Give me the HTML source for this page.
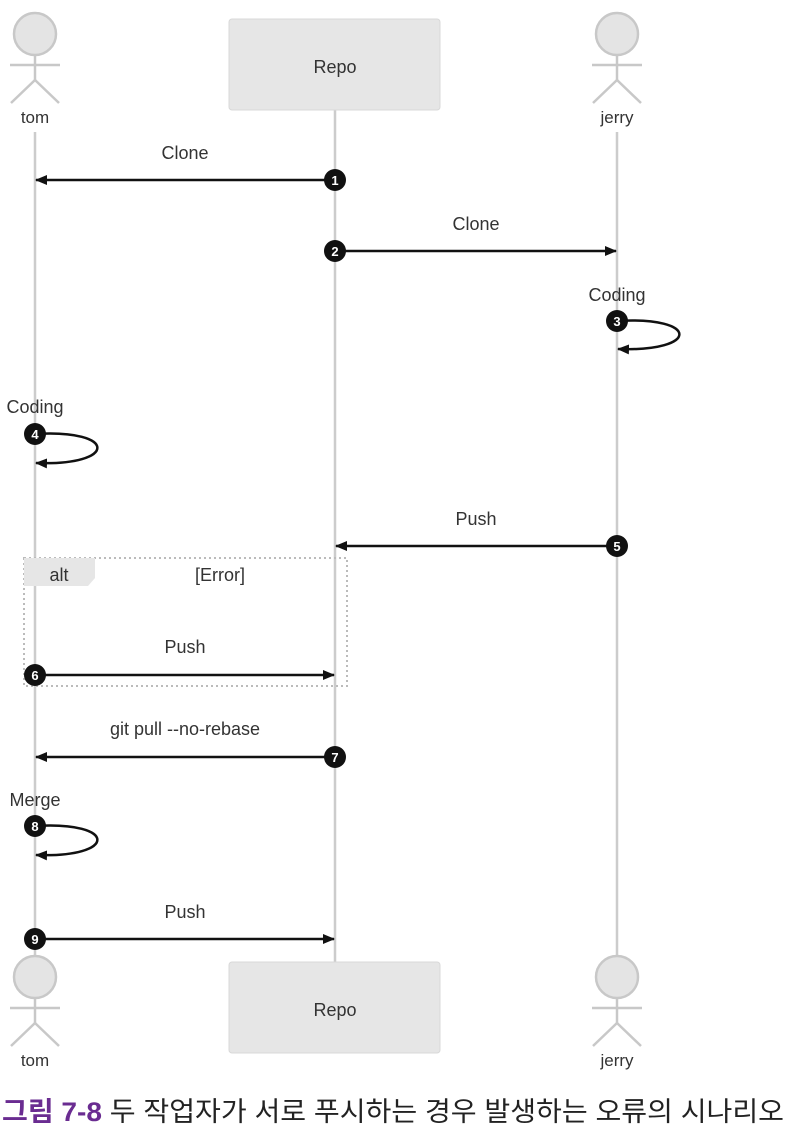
<!DOCTYPE html>
<html><head><meta charset="utf-8"><style>
body{margin:0;background:#fff;width:791px;height:1135px;overflow:hidden}
svg text{font-family:"Liberation Sans","DejaVu Sans",sans-serif;fill:#333}
svg text.n{fill:#fff}
</style></head><body>
<svg width="791" height="1135" viewBox="0 0 791 1135" xmlns="http://www.w3.org/2000/svg">
<defs>
<marker id="a" markerWidth="12" markerHeight="10" refX="11" refY="5" orient="auto" markerUnits="userSpaceOnUse">
<path d="M0,0 L12,5 L0,10 z" fill="#111"/></marker>
<g id="act"><circle cx="0" cy="34" r="21"/><line x1="0" y1="55" x2="0" y2="80"/><line x1="-25" y1="65" x2="25" y2="65"/><line x1="0" y1="80" x2="-24" y2="103"/><line x1="0" y1="80" x2="24" y2="103"/></g>
</defs>
<g stroke="#ccc" stroke-width="2.5" fill="none">
<line x1="35" y1="132" x2="35" y2="955"/>
<line x1="335" y1="110" x2="335" y2="962"/>
<line x1="617" y1="132" x2="617" y2="955"/>
</g>
<g stroke="#c8c8c8" stroke-width="2.5" fill="#e4e4e4">
<use href="#act" x="35" y="0"/><use href="#act" x="617" y="0"/>
<use href="#act" x="35" y="943"/><use href="#act" x="617" y="943"/>
</g>
<g font-size="17" text-anchor="middle">
<text x="35" y="123">tom</text><text x="617" y="123">jerry</text>
<text x="35" y="1066">tom</text><text x="617" y="1066">jerry</text>
</g>
<rect x="229" y="19" width="211" height="91" rx="3" fill="#e6e6e6" stroke="#d8d8d8"/>
<rect x="229" y="962" width="211" height="91" rx="3" fill="#e6e6e6" stroke="#d8d8d8"/>
<text x="335" y="73" font-size="18" text-anchor="middle">Repo</text>
<text x="335" y="1016" font-size="18" text-anchor="middle">Repo</text>
<rect x="24" y="558" width="323" height="128" fill="none" stroke="#bbb" stroke-width="2" stroke-dasharray="2,3"/>
<path d="M24,558 H95 V578 L88,586 H24 z" fill="#e6e6e6"/>
<text x="59" y="581" font-size="18" text-anchor="middle">alt</text>
<text x="220" y="581" font-size="18" text-anchor="middle">[Error]</text>
<g stroke="#111" stroke-width="2.5" fill="none">
<line x1="335" y1="180" x2="36" y2="180" marker-end="url(#a)"/>
<line x1="335" y1="251" x2="616" y2="251" marker-end="url(#a)"/>
<path d="M617,321 C700,316 700,352 618,349" marker-end="url(#a)"/>
<path d="M35,434 C118,429 118,466 36,463" marker-end="url(#a)"/>
<line x1="617" y1="546" x2="336" y2="546" marker-end="url(#a)"/>
<line x1="35" y1="675" x2="334" y2="675" marker-end="url(#a)"/>
<line x1="335" y1="757" x2="36" y2="757" marker-end="url(#a)"/>
<path d="M35,826 C118,821 118,858 36,855" marker-end="url(#a)"/>
<line x1="35" y1="939" x2="334" y2="939" marker-end="url(#a)"/>
</g>
<g font-size="18" text-anchor="middle">
<text x="185" y="159">Clone</text>
<text x="476" y="230">Clone</text>
<text x="617" y="301">Coding</text>
<text x="35" y="413">Coding</text>
<text x="476" y="525">Push</text>
<text x="185" y="653">Push</text>
<text x="185" y="735">git pull --no-rebase</text>
<text x="35" y="806">Merge</text>
<text x="185" y="918">Push</text>
</g>
<g fill="#111">
<circle cx="335" cy="180" r="11"/><circle cx="335" cy="251" r="11"/>
<circle cx="617" cy="321" r="11"/><circle cx="35" cy="434" r="11"/>
<circle cx="617" cy="546" r="11"/><circle cx="35" cy="675" r="11"/>
<circle cx="335" cy="757" r="11"/><circle cx="35" cy="826" r="11"/>
<circle cx="35" cy="939" r="11"/>
</g>
<g font-size="13" font-weight="bold" text-anchor="middle">
<text class="n" x="335" y="185">1</text><text class="n" x="335" y="256">2</text>
<text class="n" x="617" y="326">3</text><text class="n" x="35" y="439">4</text>
<text class="n" x="617" y="551">5</text><text class="n" x="35" y="680">6</text>
<text class="n" x="335" y="762">7</text><text class="n" x="35" y="831">8</text>
<text class="n" x="35" y="944">9</text>
</g>
<text x="2" y="1121" font-size="27" textLength="782" lengthAdjust="spacingAndGlyphs" style="font-family:'Liberation Sans','Noto Sans CJK KR',sans-serif;fill:#222"><tspan style="fill:#6a2c91;font-weight:bold">그림 7-8</tspan> 두 작업자가 서로 푸시하는 경우 발생하는 오류의 시나리오</text>
</svg>
</body></html>
